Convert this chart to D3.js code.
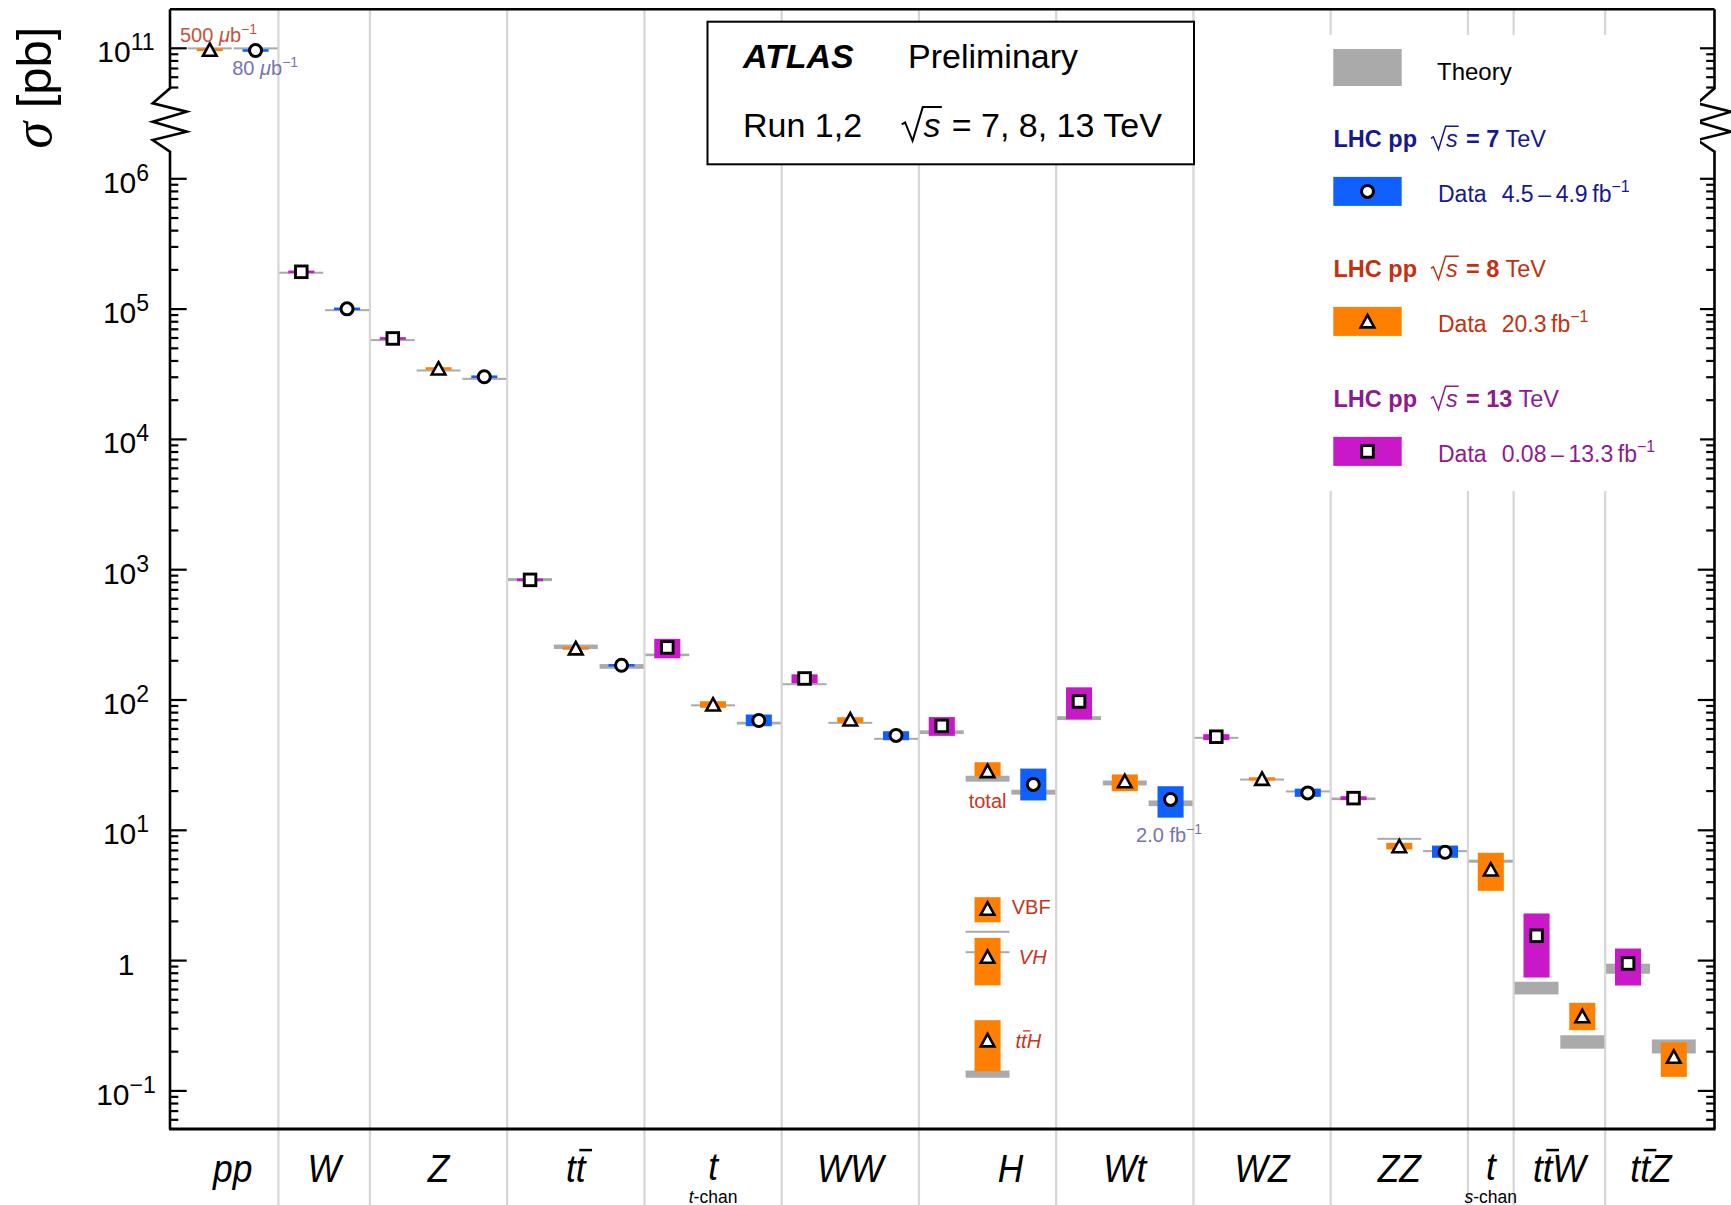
<!DOCTYPE html>
<html>
<head>
<meta charset="utf-8">
<script src="https://cdn.jsdelivr.net/npm/d3@7"></script>
<style>
  html, body { margin: 0; padding: 0; background: #fff; }
  svg { display: block; }
  text { font-family: "Liberation Sans", Arial, Helvetica, sans-serif; }
</style>
</head>
<body>
<svg id="chart" width="1731" height="1205"></svg>
<script>
// ---- Processes along the x axis (a combining macron marks an anti-quark bar) ----
const categories = ["pp", "W", "Z", "tt\u0304", "t", "WW", "H", "Wt", "WZ", "ZZ", "t", "tt\u0304W", "tt\u0304Z"];
const categorySubLabels = ["", "", "", "", "t-chan", "", "", "", "", "", "s-chan", "", ""];

// ---- One entry per measurement, in plotting order ----
const slotCategory = [0, 0, 1, 1, 2, 2, 2, 3, 3, 3, 4, 4, 4, 5, 5, 5, 6, 6, 6, 7, 7, 7, 8, 8, 8, 9, 9, 9, 10, 11, 11, 12, 12];
const slotEnergy   = [8, 7, 13, 7, 13, 8, 7, 13, 8, 7, 13, 8, 7, 13, 8, 7, 13, 8, 7, 13, 8, 7, 13, 8, 7, 13, 8, 7, 8, 13, 8, 13, 8];

// measured cross sections [pb] and the total uncertainty interval
const sigma = [9.65e10, 9.53e10, 1.916e5, 9.96e4, 5.9e4, 3.47e4, 3.0e4, 828, 247, 183, 251, 91.5, 69, 145, 70.3, 53,
               62.7, 28.2, 22.3, 96.6, 23.6, 17.1, 51.8, 24.6, 19.2, 17.5, 7.48, 6.73, 4.96, 1.537, 0.371, 0.942, 0.181];
const sigmaLow = [9.55e10, 9.45e10, 1.89e5, 9.85e4, 5.82e4, 3.43e4, 2.96e4, 808, 241, 179, 207, 86.3, 62.4, 133, 66.5, 48.7,
                  52.6, 25.7, 16.8, 70.5, 19.8, 12.4, 48.8, 23.9, 17.9, 16.9, 7.06, 6.1, 3.4, 0.735, 0.29, 0.638, 0.127];
const sigmaHigh = [9.75e10, 9.62e10, 1.94e5, 1.007e5, 5.98e4, 3.51e4, 3.04e4, 848, 253, 187, 292, 97, 76.7, 156, 73.1, 57.1,
                   73.3, 33, 29.5, 124, 26.6, 21.6, 54.2, 25.3, 20.7, 18.1, 7.94, 7.57, 6.66, 2.28, 0.47, 1.227, 0.234];

// theory predictions [pb], lower and upper edge
const theoryLow = [9.85e10, 9.85e10, 1.87e5, 9.65e4, 5.68e4, 3.30e4, 2.86e4, 810, 244, 172, 215, 89.5, 64.3, 130, 65.8, 49.5,
                   54.3, 23.4, 18.6, 69.5, 21.9, 15.2, 50.5, 24.1, 19.5, 16.9, 8.45, 6.8, 5.59, 0.545, 0.209, 0.785, 0.192];
const theoryHigh = [9.95e10, 9.95e10, 1.90e5, 9.8e4, 5.78e4, 3.40e4, 2.92e4, 855, 264, 187, 225, 91, 67.5, 132, 66.6, 50.3,
                    58, 26, 20.3, 74.5, 23.9, 16.8, 51.1, 24.5, 19.9, 17.7, 8.6, 6.92, 5.9, 0.682, 0.265, 0.939, 0.246];

// ---- Higgs production modes at 8 TeV ----
const higgsModes = ["VBF", "VH", "tt\u0304H"];
const higgsSigma = [2.48, 1.06, 0.242];
const higgsLow = [1.95, 0.64, 0.14];
const higgsHigh = [3.04, 1.48, 0.346];
const higgsTheoryLow = [1.63, 1.13, 0.125];
const higgsTheoryHigh = [1.67, 1.17, 0.142];

// ---- Legend content ----
const legendEnergies = [7, 8, 13];
const legendLumi = ["4.5\u2009\u2013\u20094.9", "20.3", "0.08\u2009\u2013\u200913.3"];

// ---- Colours ----
const fillColor = { 7: "#1060ff", 8: "#ff8000", 13: "#c818c8" };
const textColor = { 7: "#17178e", 8: "#c3310f", 13: "#8e1a8e" };
const theoryColor = "#aaaaaa";
const noteRed = "#c8351c";
const noteLilac = "#7773b2";

// ---- Layout & scales ----
const svg = d3.select("#chart");
const frame = { left: 170, right: 1714.5, top: 9.3, bottom: 1129 };
const x = d3.scaleLinear().domain([0, slotCategory.length - 1]).range([209.8, 1673.8]);
const slotW = x(1) - x(0);
// broken log axis: a short upper section around 1e11 and the main section below 1e6
const yMain = d3.scaleLog().domain([1e6, 1e-1]).range([178.3, 1090.4]);
const yTop = d3.scaleLog().domain([1e11, 1e10]).range([47.8, 178.1]);
const y = v => (v >= 1e9 ? yTop(v) : yMain(v));

const theoryW = 0.96 * slotW;
const boxW = 0.57 * slotW;
// the Higgs label sits between its 8 and 7 TeV columns
const labelShiftSlots = { H: 0.5 };

// ---- Category separators ----
const bounds = [];
for (let i = 0; i < slotCategory.length - 1; i++) {
  if (slotCategory[i] !== slotCategory[i + 1]) bounds.push(x(i + 0.5));
}
svg.append("g").selectAll("line").data(bounds).join("line")
  .attr("x1", d => d).attr("x2", d => d)
  .attr("y1", frame.top).attr("y2", 1205)
  .attr("stroke", "#d7d7d7").attr("stroke-width", 2.3);

// ---- Bands (theory and data) ----
function bandRect(cx, lo, hi, w, minH) {
  let y0 = y(hi), y1 = y(lo), h = y1 - y0;
  if (h < minH) { const m = (y0 + y1) / 2; y0 = m - minH / 2; h = minH; }
  return { x: cx - w / 2, y: y0, w: w, h: h };
}
const higgsSlot = slotCategory.findIndex((c, i) => categories[c] === "H" && slotEnergy[i] === 8);

const theoryRects = sigma.map((_, i) => bandRect(x(i), theoryLow[i], theoryHigh[i], theoryW, 2));
higgsModes.forEach((_, k) => theoryRects.push(bandRect(x(higgsSlot), higgsTheoryLow[k], higgsTheoryHigh[k], theoryW, 2)));

const dataRects = sigma.map((_, i) => Object.assign(bandRect(x(i), sigmaLow[i], sigmaHigh[i], boxW, 2.6), { e: slotEnergy[i] }));
higgsModes.forEach((_, k) => dataRects.push(Object.assign(bandRect(x(higgsSlot), higgsLow[k], higgsHigh[k], boxW, 2.6), { e: 8 })));

svg.append("g").selectAll("rect").data(theoryRects).join("rect")
  .attr("x", d => d.x).attr("y", d => d.y).attr("width", d => d.w).attr("height", d => d.h)
  .attr("fill", theoryColor);

svg.append("g").selectAll("rect").data(dataRects).join("rect")
  .attr("x", d => d.x).attr("y", d => d.y).attr("width", d => d.w).attr("height", d => d.h)
  .attr("fill", d => fillColor[d.e]);

// ---- Markers ----
function marker(g, e, cx, cy) {
  if (e === 7) {
    g.append("circle").attr("cx", cx).attr("cy", cy).attr("r", 6)
      .attr("fill", "#fff").attr("stroke", "#000").attr("stroke-width", 3);
  } else if (e === 13) {
    g.append("rect").attr("x", cx - 5.8).attr("y", cy - 5.8).attr("width", 11.6).attr("height", 11.6)
      .attr("fill", "#fff").attr("stroke", "#000").attr("stroke-width", 2.9);
  } else {
    g.append("path").attr("d", `M${cx},${cy - 6.4}L${cx + 6.8},${cy + 6}L${cx - 6.8},${cy + 6}Z`)
      .attr("fill", "#fff").attr("stroke", "#000").attr("stroke-width", 2.6).attr("stroke-linejoin", "miter");
  }
}
const gMarks = svg.append("g");
sigma.forEach((v, i) => marker(gMarks, slotEnergy[i], x(i), y(v)));
higgsSigma.forEach(v => marker(gMarks, 8, x(higgsSlot), y(v)));

// ---- Axes ----
const mainMajors = d3.range(-1, 7).map(e => Math.pow(10, e));
const mainMinors = [];
for (let e = -2; e <= 5; e++) {
  for (let m = 2; m <= 9; m++) {
    const v = m * Math.pow(10, e);
    const yy = yMain(v);
    if (yy >= 152 && yy <= frame.bottom - 1) mainMinors.push(v);
  }
}
const topMajors = [1e11];
const topMinors = [5e10, 6e10, 7e10, 8e10, 9e10];

function drawTicks(scale, vals, len, side) {
  const ax = (side === "left" ? d3.axisLeft(scale) : d3.axisRight(scale))
    .tickValues(vals).tickSize(-len).tickFormat("");
  const g = svg.append("g")
    .attr("transform", `translate(${side === "left" ? frame.left : frame.right},0)`)
    .call(ax);
  g.select(".domain").remove();
  g.selectAll(".tick text").remove();
  g.selectAll(".tick line").attr("stroke", "#000").attr("stroke-width", 2.2);
}
["left", "right"].forEach(side => {
  drawTicks(yMain, mainMajors, 16.7, side);
  drawTicks(yMain, mainMinors, 8.3, side);
  drawTicks(yTop, topMajors, 16.7, side);
  drawTicks(yTop, topMinors, 8.3, side);
});

// axis lines with the break marks
const zig = [[0, 88.3], [-17.3, 103.3], [16.7, 111.7], [-17.3, 121.7], [16.7, 131.7], [-17.3, 140], [0, 151.7]];
function axisPts(x0) {
  return [[x0, frame.top], ...zig.map(([dx, yy]) => [x0 + dx, yy]), [x0, frame.bottom]];
}
[frame.left, frame.right].forEach(x0 => {
  svg.append("path").attr("d", d3.line()(axisPts(x0)))
    .attr("fill", "none").attr("stroke", "#000").attr("stroke-width", 2.6).attr("stroke-linejoin", "miter");
});
svg.append("line").attr("x1", frame.left).attr("x2", frame.right).attr("y1", frame.top).attr("y2", frame.top)
  .attr("stroke", "#000").attr("stroke-width", 2.4);
svg.append("line").attr("x1", frame.left - 1).attr("x2", frame.right + 1).attr("y1", frame.bottom).attr("y2", frame.bottom)
  .attr("stroke", "#000").attr("stroke-width", 3);

// tick labels
function powLabel(v, yy) {
  const t = svg.append("text").attr("x", 126).attr("y", yy + 14.5)
    .attr("text-anchor", "middle").style("font-size", "30px").attr("fill", "#000");
  const e = Math.round(Math.log10(v));
  if (e === 0) { t.text("1"); return; }
  t.append("tspan").text("10");
  t.append("tspan").attr("dy", -12).style("font-size", "23px").text(e < 0 ? "\u2212" + (-e) : String(e));
}
mainMajors.forEach(v => powLabel(v, yMain(v)));
topMajors.forEach(v => powLabel(v, yTop(v)));

// y title
const yTitle = svg.append("text").attr("transform", "translate(51,87.5) rotate(-90)")
  .attr("text-anchor", "middle").attr("fill", "#000");
yTitle.append("tspan").style("font-family", "'Liberation Serif', 'DejaVu Serif', serif")
  .style("font-style", "italic").style("font-size", "54px").text("\u03c3");
yTitle.append("tspan").style("font-size", "49px").text(" [pb]");

// ---- Text with barred characters ----
function barredText(parent, str, size, attrs) {
  const marks = [];
  let plain = "";
  for (let i = 0; i < str.length; i++) {
    if (str[i + 1] === "\u0304") { marks.push(plain.length); plain += str[i]; i++; }
    else plain += str[i];
  }
  const t = parent.append("text").style("font-size", size + "px");
  Object.entries(attrs).forEach(([k, v]) => {
    if (k.startsWith("style:")) t.style(k.slice(6), v); else t.attr(k, v);
  });
  t.text(plain);
  const baseY = +t.attr("y") || 0;
  marks.forEach(k => {
    const ext = t.node().getExtentOfChar(k);
    parent.append("line")
      .attr("x1", ext.x + 0.1 * size).attr("x2", ext.x + 0.46 * size)
      .attr("y1", baseY - 0.84 * size).attr("y2", baseY - 0.84 * size)
      .attr("stroke", attrs.fill || "#000").attr("stroke-width", Math.max(1.3, size * 0.065));
  });
  return t;
}

// ---- Category labels ----
categories.forEach((name, c) => {
  const slots = slotCategory.map((sc, i) => (sc === c ? i : -1)).filter(i => i >= 0);
  const shift = (labelShiftSlots[name] || 0) * slotW;
  const cx = d3.mean(slots, i => x(i)) + shift;
  const sub = categorySubLabels[c];
  const g = svg.append("g").attr("transform", `translate(${cx},${sub ? 1179.5 : 1182}) scale(0.93,1)`);
  barredText(g, name, 38, { x: 0, y: 0, "text-anchor": "middle", fill: "#000", "style:font-style": "italic" });
  if (sub) {
    const st = svg.append("text").attr("x", cx).attr("y", 1202.5).attr("text-anchor", "middle")
      .style("font-size", "17.5px").attr("fill", "#000");
    st.append("tspan").style("font-style", "italic").text(sub[0]);
    st.append("tspan").text(sub.slice(1));
  }
});

// ---- Annotations ----
function lumiNote(xp, yp, num, unitItalic, unit, color) {
  const t = svg.append("text").attr("x", xp).attr("y", yp).attr("fill", color).style("font-size", "20px");
  t.append("tspan").text(num + " ");
  if (unitItalic) t.append("tspan").style("font-style", "italic").text(unitItalic);
  t.append("tspan").text(unit);
  t.append("tspan").attr("dy", -8).style("font-size", "14px").text("\u22121");
}
lumiNote(x(0) - 29.8, y(sigma[0]) - 8.3, "500", "\u03bc", "b", "#c5533d");
lumiNote(x(1) - 23.3, y(sigma[1]) + 24.3, "80", "\u03bc", "b", noteLilac);
lumiNote(x(21) - 34.5, y(sigmaLow[21]) + 24.4, "2.0", "", "fb", noteLilac);

svg.append("text").attr("x", x(higgsSlot)).attr("y", y(sigmaLow[higgsSlot]) + 31.7)
  .attr("text-anchor", "middle").attr("fill", noteRed).style("font-size", "20px").text("total");

const modeDx = [24.2, 31.3, 28];
const modeDy = [5.7, 7, 7.3];
higgsModes.forEach((m, k) => {
  barredText(svg, m, 20, {
    x: x(higgsSlot) + modeDx[k], y: y(higgsSigma[k]) + modeDy[k], fill: noteRed,
    "style:font-style": k === 0 ? "normal" : "italic"
  });
});

// ---- sqrt(s) helper ----
function sqrtS(parent, x0, base, size, color, lw) {
  const sw = 0.56 * size;
  const top = base - 0.87 * size;
  parent.append("path")
    .attr("d", `M${x0},${base - 0.36 * size}L${x0 + 0.1 * size},${base - 0.42 * size}` +
               `L${x0 + 0.32 * size},${base + 0.12 * size}L${x0 + 0.62 * size},${top}H${x0 + 0.62 * size + sw}`)
    .attr("fill", "none").attr("stroke", color).attr("stroke-width", lw).attr("stroke-linejoin", "miter");
  parent.append("text").attr("x", x0 + 0.64 * size).attr("y", base).attr("fill", color)
    .style("font-size", size + "px").style("font-style", "italic").text("s");
}

// ---- ATLAS label box ----
const gA = svg.append("g");
gA.append("rect").attr("x", 707.5).attr("y", 21.7).attr("width", 486.5).attr("height", 142.6)
  .attr("fill", "#fff").attr("stroke", "#000").attr("stroke-width", 2);
gA.append("text").attr("x", 743).attr("y", 68.3).style("font-size", "34px")
  .style("font-weight", "bold").style("font-style", "italic").text("ATLAS");
gA.append("text").attr("x", 908).attr("y", 68.3).style("font-size", "34px").text("Preliminary");
gA.append("text").attr("x", 743).attr("y", 136.7).style("font-size", "34px").text("Run 1,2");
sqrtS(gA, 901.7, 136.7, 34, "#000", 2);
gA.append("text").attr("x", 951.7).attr("y", 136.7).style("font-size", "34px").text("= 7, 8, 13 TeV");

// ---- Legend ----
const gL = svg.append("g");
gL.append("rect").attr("x", 1300).attr("y", 35).attr("width", 400).attr("height", 456).attr("fill", "#fff");
gL.append("rect").attr("x", 1333.3).attr("y", 49).attr("width", 68.4).attr("height", 37).attr("fill", theoryColor);
gL.append("text").attr("x", 1437).attr("y", 80).style("font-size", "24px").attr("fill", "#000").text("Theory");

legendEnergies.forEach((e, k) => {
  const hb = 146.7 + k * 130;
  const col = textColor[e];
  const h = gL.append("text").attr("x", 1333.5).attr("y", hb).attr("fill", col).style("font-size", "23.5px");
  h.append("tspan").style("font-weight", "bold").text("LHC pp");
  sqrtS(gL, 1431, hb, 23.5, col, 1.5);
  const h2 = gL.append("text").attr("x", 1466).attr("y", hb).attr("fill", col).style("font-size", "23.5px");
  h2.append("tspan").style("font-weight", "bold").text("= " + e);
  h2.append("tspan").text(" TeV");

  const sy = 176.9 + k * 130;
  gL.append("rect").attr("x", 1333.3).attr("y", sy).attr("width", 68.4).attr("height", 29)
    .attr("fill", fillColor[e]);
  marker(gL, e, 1367.5, sy + 14.5);

  const d = gL.append("text").attr("x", 1438).attr("y", 201.7 + k * 130).attr("fill", col).style("font-size", "23px");
  d.append("tspan").text("Data");
  d.append("tspan").attr("x", 1501.7).text(legendLumi[k] + "\u2009fb");
  d.append("tspan").attr("dy", -10).style("font-size", "16px").text("\u22121");
});
</script>
</body>
</html>
